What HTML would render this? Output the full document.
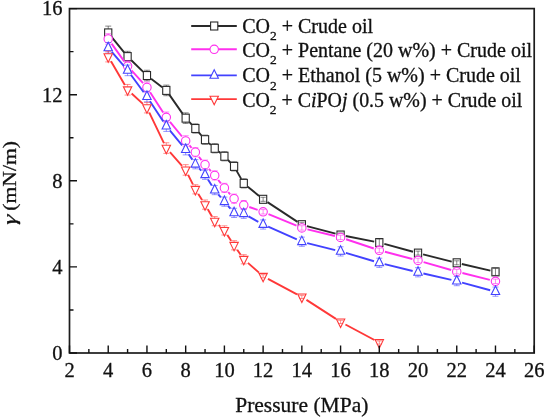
<!DOCTYPE html>
<html><head><meta charset="utf-8"><title>Chart</title>
<style>html,body{margin:0;padding:0;background:#fff}svg{display:block;filter:blur(0.55px)}</style></head>
<body>
<svg width="544" height="418" viewBox="0 0 544 418">
<rect width="544" height="418" fill="#fff"/>
<path d="M111.52 36.95L124.30 52.58M131.30 60.24L143.23 71.91M151.08 78.71L162.19 87.23M169.29 94.66L182.70 113.90M189.23 121.96L191.80 124.70M198.76 132.43L201.64 135.75M208.92 143.14L210.83 144.84M218.73 151.60L220.38 152.96M228.00 160.02L230.49 162.62M236.65 170.90L241.19 178.86M247.78 186.69L259.11 196.01M267.47 202.16L297.50 221.86M306.87 226.05L335.55 233.70M345.68 236.04L374.20 241.58M384.32 243.94L413.01 251.76M423.07 254.39L451.71 261.55M461.81 263.99L490.41 270.67" fill="none" stroke="#2a2a2a" stroke-width="1.9"/>
<path d="M108.22 26.12V39.72M105.22 26.12H111.22M105.22 39.72H111.22" stroke="#2a2a2a" stroke-width="0.7" stroke-opacity="0.8" fill="none"/>
<path d="M127.59 51.30V61.90M124.59 51.30H130.59M124.59 61.90H130.59" stroke="#2a2a2a" stroke-width="0.7" stroke-opacity="0.8" fill="none"/>
<path d="M146.95 70.24V80.84M143.95 70.24H149.95M143.95 80.84H149.95" stroke="#2a2a2a" stroke-width="0.7" stroke-opacity="0.8" fill="none"/>
<path d="M166.31 85.10V95.70M163.31 85.10H169.31M163.31 95.70H169.31" stroke="#2a2a2a" stroke-width="0.7" stroke-opacity="0.8" fill="none"/>
<path d="M185.68 112.86V123.46M182.68 112.86H188.68M182.68 123.46H188.68" stroke="#2a2a2a" stroke-width="0.7" stroke-opacity="0.8" fill="none"/>
<path d="M195.36 123.89V133.09M192.36 123.89H198.36M192.36 133.09H198.36" stroke="#2a2a2a" stroke-width="0.7" stroke-opacity="0.8" fill="none"/>
<path d="M205.04 135.09V144.29M202.04 135.09H208.04M202.04 144.29H208.04" stroke="#2a2a2a" stroke-width="0.7" stroke-opacity="0.8" fill="none"/>
<path d="M214.72 143.70V152.90M211.72 143.70H217.72M211.72 152.90H217.72" stroke="#2a2a2a" stroke-width="0.7" stroke-opacity="0.8" fill="none"/>
<path d="M224.40 151.66V160.86M221.40 151.66H227.40M221.40 160.86H227.40" stroke="#2a2a2a" stroke-width="0.7" stroke-opacity="0.8" fill="none"/>
<path d="M234.08 161.78V170.98M231.08 161.78H237.08M231.08 170.98H237.08" stroke="#2a2a2a" stroke-width="0.7" stroke-opacity="0.8" fill="none"/>
<path d="M243.76 178.78V187.98M240.76 178.78H246.76M240.76 187.98H246.76" stroke="#2a2a2a" stroke-width="0.7" stroke-opacity="0.8" fill="none"/>
<rect x="104.62" y="28.92" width="7.20" height="8.00" fill="#fff" stroke="#2a2a2a" stroke-width="1.1"/>
<rect x="123.99" y="52.60" width="7.20" height="8.00" fill="#fff" stroke="#2a2a2a" stroke-width="1.1"/>
<rect x="143.35" y="71.54" width="7.20" height="8.00" fill="#fff" stroke="#2a2a2a" stroke-width="1.1"/>
<rect x="162.71" y="86.40" width="7.20" height="8.00" fill="#fff" stroke="#2a2a2a" stroke-width="1.1"/>
<rect x="182.08" y="114.16" width="7.20" height="8.00" fill="#fff" stroke="#2a2a2a" stroke-width="1.1"/>
<rect x="191.76" y="124.49" width="7.20" height="8.00" fill="#fff" stroke="#2a2a2a" stroke-width="1.1"/>
<rect x="201.44" y="135.69" width="7.20" height="8.00" fill="#fff" stroke="#2a2a2a" stroke-width="1.1"/>
<rect x="211.12" y="144.30" width="7.20" height="8.00" fill="#fff" stroke="#2a2a2a" stroke-width="1.1"/>
<rect x="220.80" y="152.26" width="7.20" height="8.00" fill="#fff" stroke="#2a2a2a" stroke-width="1.1"/>
<rect x="230.48" y="162.38" width="7.20" height="8.00" fill="#fff" stroke="#2a2a2a" stroke-width="1.1"/>
<rect x="240.16" y="179.38" width="7.20" height="8.00" fill="#fff" stroke="#2a2a2a" stroke-width="1.1"/>
<rect x="259.52" y="195.31" width="7.20" height="8.00" fill="#fff" stroke="#2a2a2a" stroke-width="1.1"/>
<rect x="298.25" y="220.71" width="7.20" height="8.00" fill="#fff" stroke="#2a2a2a" stroke-width="1.1"/>
<rect x="336.98" y="231.04" width="7.20" height="8.00" fill="#fff" stroke="#2a2a2a" stroke-width="1.1"/>
<rect x="375.70" y="238.58" width="7.20" height="8.00" fill="#fff" stroke="#2a2a2a" stroke-width="1.1"/>
<rect x="414.43" y="249.12" width="7.20" height="8.00" fill="#fff" stroke="#2a2a2a" stroke-width="1.1"/>
<rect x="453.15" y="258.81" width="7.20" height="8.00" fill="#fff" stroke="#2a2a2a" stroke-width="1.1"/>
<rect x="491.88" y="267.85" width="7.20" height="8.00" fill="#fff" stroke="#2a2a2a" stroke-width="1.1"/>
<path d="M263.12 197.31V201.31M260.52 197.31H265.73M260.52 201.31H265.73" stroke="#2a2a2a" stroke-width="0.7" stroke-opacity="0.8" fill="none"/>
<path d="M301.85 222.71V226.71M299.25 222.71H304.45M299.25 226.71H304.45" stroke="#2a2a2a" stroke-width="0.7" stroke-opacity="0.8" fill="none"/>
<path d="M340.58 233.04V237.04M337.98 233.04H343.18M337.98 237.04H343.18" stroke="#2a2a2a" stroke-width="0.7" stroke-opacity="0.8" fill="none"/>
<path d="M379.30 238.98V246.18M376.70 238.98H381.90M376.70 246.18H381.90" stroke="#2a2a2a" stroke-width="0.7" stroke-opacity="0.8" fill="none"/>
<path d="M418.03 251.12V255.12M415.43 251.12H420.63M415.43 255.12H420.63" stroke="#2a2a2a" stroke-width="0.7" stroke-opacity="0.8" fill="none"/>
<path d="M456.75 260.81V264.81M454.15 260.81H459.35M454.15 264.81H459.35" stroke="#2a2a2a" stroke-width="0.7" stroke-opacity="0.8" fill="none"/>
<path d="M495.48 268.25V275.45M492.88 268.25H498.08M492.88 275.45H498.08" stroke="#2a2a2a" stroke-width="0.7" stroke-opacity="0.8" fill="none"/>
<path d="M111.60 43.67L124.22 61.35M131.49 70.36L143.05 83.09M150.10 92.25L163.16 112.43M169.98 121.79L182.00 136.49M189.47 145.37L191.56 147.79M198.91 156.76L201.48 160.07M208.92 168.97L210.84 171.11M218.27 180.00L220.85 183.32M228.28 192.22L230.20 194.35M249.25 207.01L257.64 209.91M268.48 214.03L296.50 225.71M307.48 229.32L334.94 236.03M346.08 239.25L373.80 248.49M384.91 251.79L412.41 258.98M423.60 262.05L451.18 270.03M462.38 273.04L489.85 279.91" fill="none" stroke="#ff30ee" stroke-width="1.9"/>
<path d="M108.22 33.65V44.25M105.22 33.65H111.22M105.22 44.25H111.22" stroke="#ff30ee" stroke-width="0.7" stroke-opacity="0.8" fill="none"/>
<path d="M127.59 60.77V71.37M124.59 60.77H130.59M124.59 71.37H130.59" stroke="#ff30ee" stroke-width="0.7" stroke-opacity="0.8" fill="none"/>
<path d="M146.95 82.08V92.68M143.95 82.08H149.95M143.95 92.68H149.95" stroke="#ff30ee" stroke-width="0.7" stroke-opacity="0.8" fill="none"/>
<path d="M166.31 112.00V122.60M163.31 112.00H169.31M163.31 122.60H169.31" stroke="#ff30ee" stroke-width="0.7" stroke-opacity="0.8" fill="none"/>
<path d="M185.68 135.68V146.28M182.68 135.68H188.68M182.68 146.28H188.68" stroke="#ff30ee" stroke-width="0.7" stroke-opacity="0.8" fill="none"/>
<path d="M195.36 147.57V156.77M192.36 147.57H198.36M192.36 156.77H198.36" stroke="#ff30ee" stroke-width="0.7" stroke-opacity="0.8" fill="none"/>
<path d="M205.04 160.06V169.26M202.04 160.06H208.04M202.04 169.26H208.04" stroke="#ff30ee" stroke-width="0.7" stroke-opacity="0.8" fill="none"/>
<path d="M214.72 170.82V180.02M211.72 170.82H217.72M211.72 180.02H217.72" stroke="#ff30ee" stroke-width="0.7" stroke-opacity="0.8" fill="none"/>
<path d="M224.40 183.30V192.50M221.40 183.30H227.40M221.40 192.50H227.40" stroke="#ff30ee" stroke-width="0.7" stroke-opacity="0.8" fill="none"/>
<path d="M234.08 194.07V203.27M231.08 194.07H237.08M231.08 203.27H237.08" stroke="#ff30ee" stroke-width="0.7" stroke-opacity="0.8" fill="none"/>
<path d="M243.76 200.52V209.72M240.76 200.52H246.76M240.76 209.72H246.76" stroke="#ff30ee" stroke-width="0.7" stroke-opacity="0.8" fill="none"/>
<circle cx="108.22" cy="38.95" r="4.2" fill="#fff" stroke="#ff30ee" stroke-width="1.1"/>
<circle cx="127.59" cy="66.07" r="4.2" fill="#fff" stroke="#ff30ee" stroke-width="1.1"/>
<circle cx="146.95" cy="87.38" r="4.2" fill="#fff" stroke="#ff30ee" stroke-width="1.1"/>
<circle cx="166.31" cy="117.30" r="4.2" fill="#fff" stroke="#ff30ee" stroke-width="1.1"/>
<circle cx="185.68" cy="140.98" r="4.2" fill="#fff" stroke="#ff30ee" stroke-width="1.1"/>
<circle cx="195.36" cy="152.17" r="4.2" fill="#fff" stroke="#ff30ee" stroke-width="1.1"/>
<circle cx="205.04" cy="164.66" r="4.2" fill="#fff" stroke="#ff30ee" stroke-width="1.1"/>
<circle cx="214.72" cy="175.42" r="4.2" fill="#fff" stroke="#ff30ee" stroke-width="1.1"/>
<circle cx="224.40" cy="187.90" r="4.2" fill="#fff" stroke="#ff30ee" stroke-width="1.1"/>
<circle cx="234.08" cy="198.67" r="4.2" fill="#fff" stroke="#ff30ee" stroke-width="1.1"/>
<circle cx="243.76" cy="205.12" r="4.2" fill="#fff" stroke="#ff30ee" stroke-width="1.1"/>
<circle cx="263.12" cy="211.80" r="4.2" fill="#fff" stroke="#ff30ee" stroke-width="1.1"/>
<circle cx="301.85" cy="227.94" r="4.2" fill="#fff" stroke="#ff30ee" stroke-width="1.1"/>
<circle cx="340.58" cy="237.41" r="4.2" fill="#fff" stroke="#ff30ee" stroke-width="1.1"/>
<circle cx="379.30" cy="250.33" r="4.2" fill="#fff" stroke="#ff30ee" stroke-width="1.1"/>
<circle cx="418.03" cy="260.44" r="4.2" fill="#fff" stroke="#ff30ee" stroke-width="1.1"/>
<circle cx="456.75" cy="271.64" r="4.2" fill="#fff" stroke="#ff30ee" stroke-width="1.1"/>
<circle cx="495.48" cy="281.32" r="4.2" fill="#fff" stroke="#ff30ee" stroke-width="1.1"/>
<path d="M263.12 209.60V214.00M260.52 209.60H265.73M260.52 214.00H265.73" stroke="#ff30ee" stroke-width="0.7" stroke-opacity="0.8" fill="none"/>
<path d="M301.85 225.74V230.14M299.25 225.74H304.45M299.25 230.14H304.45" stroke="#ff30ee" stroke-width="0.7" stroke-opacity="0.8" fill="none"/>
<path d="M340.58 235.21V239.61M337.98 235.21H343.18M337.98 239.61H343.18" stroke="#ff30ee" stroke-width="0.7" stroke-opacity="0.8" fill="none"/>
<path d="M379.30 248.13V252.53M376.70 248.13H381.90M376.70 252.53H381.90" stroke="#ff30ee" stroke-width="0.7" stroke-opacity="0.8" fill="none"/>
<path d="M418.03 258.24V262.64M415.43 258.24H420.63M415.43 262.64H420.63" stroke="#ff30ee" stroke-width="0.7" stroke-opacity="0.8" fill="none"/>
<path d="M456.75 269.44V273.84M454.15 269.44H459.35M454.15 273.84H459.35" stroke="#ff30ee" stroke-width="0.7" stroke-opacity="0.8" fill="none"/>
<path d="M495.48 279.12V283.52M492.88 279.12H498.08M492.88 283.52H498.08" stroke="#ff30ee" stroke-width="0.7" stroke-opacity="0.8" fill="none"/>
<path d="M111.80 51.95L124.01 66.20M130.85 74.80L143.69 92.21M149.97 101.23L163.29 121.53M169.81 130.37L182.17 145.35M188.71 154.18L192.32 159.64M199.08 168.28L201.32 170.72M207.98 179.42L211.78 185.41M218.24 194.28L220.88 197.45M228.00 205.84L230.48 208.71M248.57 216.41L258.32 221.82M268.15 226.73L296.82 239.48M307.19 243.05L335.24 250.07M345.85 252.96L374.02 261.26M384.64 264.12L412.68 270.97M423.39 273.50L451.39 279.88M462.06 282.55L490.17 290.21" fill="none" stroke="#4242ff" stroke-width="1.9"/>
<path d="M108.22 42.48V53.08M105.22 42.48H111.22M105.22 53.08H111.22" stroke="#4242ff" stroke-width="0.7" stroke-opacity="0.8" fill="none"/>
<path d="M127.59 65.08V75.68M124.59 65.08H130.59M124.59 75.68H130.59" stroke="#4242ff" stroke-width="0.7" stroke-opacity="0.8" fill="none"/>
<path d="M146.95 91.34V101.94M143.95 91.34H149.95M143.95 101.94H149.95" stroke="#4242ff" stroke-width="0.7" stroke-opacity="0.8" fill="none"/>
<path d="M166.31 120.83V131.43M163.31 120.83H169.31M163.31 131.43H169.31" stroke="#4242ff" stroke-width="0.7" stroke-opacity="0.8" fill="none"/>
<path d="M185.68 144.29V154.89M182.68 144.29H188.68M182.68 154.89H188.68" stroke="#4242ff" stroke-width="0.7" stroke-opacity="0.8" fill="none"/>
<path d="M195.36 159.63V168.83M192.36 159.63H198.36M192.36 168.83H198.36" stroke="#4242ff" stroke-width="0.7" stroke-opacity="0.8" fill="none"/>
<path d="M205.04 170.17V179.37M202.04 170.17H208.04M202.04 179.37H208.04" stroke="#4242ff" stroke-width="0.7" stroke-opacity="0.8" fill="none"/>
<path d="M214.72 185.46V194.66M211.72 185.46H217.72M211.72 194.66H217.72" stroke="#4242ff" stroke-width="0.7" stroke-opacity="0.8" fill="none"/>
<path d="M224.40 197.08V206.28M221.40 197.08H227.40M221.40 206.28H227.40" stroke="#4242ff" stroke-width="0.7" stroke-opacity="0.8" fill="none"/>
<path d="M234.08 208.27V217.47M231.08 208.27H237.08M231.08 217.47H237.08" stroke="#4242ff" stroke-width="0.7" stroke-opacity="0.8" fill="none"/>
<path d="M243.76 209.13V218.33M240.76 209.13H246.76M240.76 218.33H246.76" stroke="#4242ff" stroke-width="0.7" stroke-opacity="0.8" fill="none"/>
<path d="M263.12 219.90V229.10M260.12 219.90H266.12M260.12 229.10H266.12" stroke="#4242ff" stroke-width="0.7" stroke-opacity="0.8" fill="none"/>
<path d="M301.85 237.12V246.32M298.85 237.12H304.85M298.85 246.32H304.85" stroke="#4242ff" stroke-width="0.7" stroke-opacity="0.8" fill="none"/>
<path d="M340.58 246.80V256.00M337.58 246.80H343.58M337.58 256.00H343.58" stroke="#4242ff" stroke-width="0.7" stroke-opacity="0.8" fill="none"/>
<path d="M379.30 258.21V267.41M376.30 258.21H382.30M376.30 267.41H382.30" stroke="#4242ff" stroke-width="0.7" stroke-opacity="0.8" fill="none"/>
<path d="M418.03 267.68V276.88M415.03 267.68H421.03M415.03 276.88H421.03" stroke="#4242ff" stroke-width="0.7" stroke-opacity="0.8" fill="none"/>
<path d="M456.75 276.51V285.71M453.75 276.51H459.75M453.75 285.71H459.75" stroke="#4242ff" stroke-width="0.7" stroke-opacity="0.8" fill="none"/>
<path d="M495.48 287.05V296.25M492.48 287.05H498.48M492.48 296.25H498.48" stroke="#4242ff" stroke-width="0.7" stroke-opacity="0.8" fill="none"/>
<path d="M104.02 50.68L112.42 50.68L108.22 42.18Z" fill="#fff" stroke="#4242ff" stroke-width="1.1"/>
<path d="M123.39 73.28L131.79 73.28L127.59 64.78Z" fill="#fff" stroke="#4242ff" stroke-width="1.1"/>
<path d="M142.75 99.54L151.15 99.54L146.95 91.04Z" fill="#fff" stroke="#4242ff" stroke-width="1.1"/>
<path d="M162.11 129.03L170.51 129.03L166.31 120.53Z" fill="#fff" stroke="#4242ff" stroke-width="1.1"/>
<path d="M181.48 152.49L189.88 152.49L185.68 143.99Z" fill="#fff" stroke="#4242ff" stroke-width="1.1"/>
<path d="M191.16 167.13L199.56 167.13L195.36 158.63Z" fill="#fff" stroke="#4242ff" stroke-width="1.1"/>
<path d="M200.84 177.67L209.24 177.67L205.04 169.17Z" fill="#fff" stroke="#4242ff" stroke-width="1.1"/>
<path d="M210.52 192.96L218.92 192.96L214.72 184.46Z" fill="#fff" stroke="#4242ff" stroke-width="1.1"/>
<path d="M220.20 204.58L228.60 204.58L224.40 196.08Z" fill="#fff" stroke="#4242ff" stroke-width="1.1"/>
<path d="M229.88 215.77L238.28 215.77L234.08 207.27Z" fill="#fff" stroke="#4242ff" stroke-width="1.1"/>
<path d="M239.56 216.63L247.96 216.63L243.76 208.13Z" fill="#fff" stroke="#4242ff" stroke-width="1.1"/>
<path d="M258.93 227.40L267.32 227.40L263.12 218.90Z" fill="#fff" stroke="#4242ff" stroke-width="1.1"/>
<path d="M297.65 244.62L306.05 244.62L301.85 236.12Z" fill="#fff" stroke="#4242ff" stroke-width="1.1"/>
<path d="M336.38 254.30L344.78 254.30L340.58 245.80Z" fill="#fff" stroke="#4242ff" stroke-width="1.1"/>
<path d="M375.10 265.71L383.50 265.71L379.30 257.21Z" fill="#fff" stroke="#4242ff" stroke-width="1.1"/>
<path d="M413.83 275.18L422.23 275.18L418.03 266.68Z" fill="#fff" stroke="#4242ff" stroke-width="1.1"/>
<path d="M452.55 284.01L460.95 284.01L456.75 275.51Z" fill="#fff" stroke="#4242ff" stroke-width="1.1"/>
<path d="M491.28 294.55L499.68 294.55L495.48 286.05Z" fill="#fff" stroke="#4242ff" stroke-width="1.1"/>
<path d="M111.00 61.35L124.81 85.00M131.63 93.48L142.91 103.89M149.32 112.58L163.94 143.12M169.96 152.20L182.03 165.81M188.13 174.85L192.90 184.38M198.30 193.95L202.09 199.94M207.81 209.33L211.94 216.41M218.69 224.96L220.42 226.61M227.40 235.02L231.08 240.66M237.21 249.79L240.63 254.74M247.90 262.89L258.99 272.63M267.98 278.85L297.00 294.34M306.47 299.91L335.95 318.92M345.43 324.49L374.45 339.97" fill="none" stroke="#ff3838" stroke-width="1.9"/>
<path d="M108.22 51.30V61.90M105.22 51.30H111.22M105.22 61.90H111.22" stroke="#ff3838" stroke-width="0.7" stroke-opacity="0.8" fill="none"/>
<path d="M127.59 84.45V95.05M124.59 84.45H130.59M124.59 95.05H130.59" stroke="#ff3838" stroke-width="0.7" stroke-opacity="0.8" fill="none"/>
<path d="M146.95 102.32V112.92M143.95 102.32H149.95M143.95 112.92H149.95" stroke="#ff3838" stroke-width="0.7" stroke-opacity="0.8" fill="none"/>
<path d="M166.31 142.78V153.38M163.31 142.78H169.31M163.31 153.38H169.31" stroke="#ff3838" stroke-width="0.7" stroke-opacity="0.8" fill="none"/>
<path d="M185.68 164.63V175.23M182.68 164.63H188.68M182.68 175.23H188.68" stroke="#ff3838" stroke-width="0.7" stroke-opacity="0.8" fill="none"/>
<path d="M195.36 184.70V193.90M192.36 184.70H198.36M192.36 193.90H198.36" stroke="#ff3838" stroke-width="0.7" stroke-opacity="0.8" fill="none"/>
<path d="M205.04 199.99V209.19M202.04 199.99H208.04M202.04 209.19H208.04" stroke="#ff3838" stroke-width="0.7" stroke-opacity="0.8" fill="none"/>
<path d="M214.72 216.56V225.76M211.72 216.56H217.72M211.72 225.76H217.72" stroke="#ff3838" stroke-width="0.7" stroke-opacity="0.8" fill="none"/>
<path d="M224.40 225.82V235.02M221.40 225.82H227.40M221.40 235.02H227.40" stroke="#ff3838" stroke-width="0.7" stroke-opacity="0.8" fill="none"/>
<path d="M234.08 240.67V249.87M231.08 240.67H237.08M231.08 249.87H237.08" stroke="#ff3838" stroke-width="0.7" stroke-opacity="0.8" fill="none"/>
<path d="M243.76 254.66V263.86M240.76 254.66H246.76M240.76 263.86H246.76" stroke="#ff3838" stroke-width="0.7" stroke-opacity="0.8" fill="none"/>
<path d="M104.02 53.70L112.42 53.70L108.22 62.20Z" fill="#fff" stroke="#ff3838" stroke-width="1.1"/>
<path d="M123.39 86.85L131.79 86.85L127.59 95.35Z" fill="#fff" stroke="#ff3838" stroke-width="1.1"/>
<path d="M142.75 104.72L151.15 104.72L146.95 113.22Z" fill="#fff" stroke="#ff3838" stroke-width="1.1"/>
<path d="M162.11 145.18L170.51 145.18L166.31 153.68Z" fill="#fff" stroke="#ff3838" stroke-width="1.1"/>
<path d="M181.48 167.03L189.88 167.03L185.68 175.53Z" fill="#fff" stroke="#ff3838" stroke-width="1.1"/>
<path d="M191.16 186.40L199.56 186.40L195.36 194.90Z" fill="#fff" stroke="#ff3838" stroke-width="1.1"/>
<path d="M200.84 201.69L209.24 201.69L205.04 210.19Z" fill="#fff" stroke="#ff3838" stroke-width="1.1"/>
<path d="M210.52 218.26L218.92 218.26L214.72 226.76Z" fill="#fff" stroke="#ff3838" stroke-width="1.1"/>
<path d="M220.20 227.52L228.60 227.52L224.40 236.02Z" fill="#fff" stroke="#ff3838" stroke-width="1.1"/>
<path d="M229.88 242.37L238.28 242.37L234.08 250.87Z" fill="#fff" stroke="#ff3838" stroke-width="1.1"/>
<path d="M239.56 256.36L247.96 256.36L243.76 264.86Z" fill="#fff" stroke="#ff3838" stroke-width="1.1"/>
<path d="M258.93 273.36L267.32 273.36L263.12 281.86Z" fill="#fff" stroke="#ff3838" stroke-width="1.1"/>
<path d="M297.65 294.03L306.05 294.03L301.85 302.53Z" fill="#fff" stroke="#ff3838" stroke-width="1.1"/>
<path d="M336.38 319.00L344.78 319.00L340.58 327.50Z" fill="#fff" stroke="#ff3838" stroke-width="1.1"/>
<path d="M375.10 339.66L383.50 339.66L379.30 348.16Z" fill="#fff" stroke="#ff3838" stroke-width="1.1"/>
<path d="M263.12 274.66V277.86M260.52 274.66H265.73M260.52 277.86H265.73" stroke="#ff3838" stroke-width="0.7" stroke-opacity="0.8" fill="none"/>
<path d="M301.85 295.33V298.53M299.25 295.33H304.45M299.25 298.53H304.45" stroke="#ff3838" stroke-width="0.7" stroke-opacity="0.8" fill="none"/>
<path d="M340.58 320.30V323.50M337.98 320.30H343.18M337.98 323.50H343.18" stroke="#ff3838" stroke-width="0.7" stroke-opacity="0.8" fill="none"/>
<path d="M379.30 340.96V344.16M376.70 340.96H381.90M376.70 344.16H381.90" stroke="#ff3838" stroke-width="0.7" stroke-opacity="0.8" fill="none"/>
<rect x="69.5" y="8.6" width="464.70" height="344.40" fill="none" stroke="#1c1c1c" stroke-width="1.7"/>
<path d="M69.50 353.0v-7.5M88.86 353.0v-4M108.22 353.0v-7.5M127.59 353.0v-4M146.95 353.0v-7.5M166.31 353.0v-4M185.68 353.0v-7.5M205.04 353.0v-4M224.40 353.0v-7.5M243.76 353.0v-4M263.12 353.0v-7.5M282.49 353.0v-4M301.85 353.0v-7.5M321.21 353.0v-4M340.58 353.0v-7.5M359.94 353.0v-4M379.30 353.0v-7.5M398.66 353.0v-4M418.03 353.0v-7.5M437.39 353.0v-4M456.75 353.0v-7.5M476.11 353.0v-4M495.48 353.0v-7.5M514.84 353.0v-4M534.20 353.0v-7.5M69.5 353.00h7.5M69.5 309.95h4M69.5 266.90h7.5M69.5 223.85h4M69.5 180.80h7.5M69.5 137.75h4M69.5 94.70h7.5M69.5 51.65h4M69.5 8.60h7.5" stroke="#111" stroke-width="1.4" fill="none"/>
<g font-family="Liberation Serif, serif" font-size="20.5" fill="#111" stroke="#111" stroke-width="0.3">
<text x="69.50" y="377.2" text-anchor="middle">2</text>
<text x="108.22" y="377.2" text-anchor="middle">4</text>
<text x="146.95" y="377.2" text-anchor="middle">6</text>
<text x="185.68" y="377.2" text-anchor="middle">8</text>
<text x="224.40" y="377.2" text-anchor="middle">10</text>
<text x="263.12" y="377.2" text-anchor="middle">12</text>
<text x="301.85" y="377.2" text-anchor="middle">14</text>
<text x="340.58" y="377.2" text-anchor="middle">16</text>
<text x="379.30" y="377.2" text-anchor="middle">18</text>
<text x="418.03" y="377.2" text-anchor="middle">20</text>
<text x="456.75" y="377.2" text-anchor="middle">22</text>
<text x="495.48" y="377.2" text-anchor="middle">24</text>
<text x="534.20" y="377.2" text-anchor="middle">26</text>
<text x="62.5" y="359.80" text-anchor="end">0</text>
<text x="62.5" y="273.70" text-anchor="end">4</text>
<text x="62.5" y="187.60" text-anchor="end">8</text>
<text x="62.5" y="101.50" text-anchor="end">12</text>
<text x="62.5" y="15.40" text-anchor="end">16</text>
<text x="301.8" y="411.8" text-anchor="middle" font-size="21.5">Pressure (MPa)</text>
<text transform="translate(16.2,210.8) rotate(-90) scale(1.033,0.9)" text-anchor="start" font-size="21">(mN/m)</text>
<text transform="translate(16.2,225.6) rotate(-90) skewX(-6) scale(1.2,0.9)" text-anchor="start" font-size="21.5" font-style="italic">γ</text>
</g>
<g font-family="Liberation Serif, serif" font-size="20" fill="#111" stroke="#111" stroke-width="0.3">
<path d="M191.2 26.0H236.8" stroke="#2a2a2a" stroke-width="1.9"/>
<rect x="210.60" y="22.00" width="7.20" height="8.00" fill="#fff" stroke="#2a2a2a" stroke-width="1.1"/>
<text x="242.2" y="32.7">CO<tspan font-size="13.5" dy="7.3">2</tspan><tspan dy="-7.3"> + </tspan>Crude oil</text>
<path d="M191.2 49.3H236.8" stroke="#ff30ee" stroke-width="1.9"/>
<circle cx="214.20" cy="49.30" r="4.2" fill="#fff" stroke="#ff30ee" stroke-width="1.1"/>
<text x="242.2" y="57.0">CO<tspan font-size="13.5" dy="7.3">2</tspan><tspan dy="-7.3"> + </tspan>Pentane (20 w%) + Crude oil</text>
<path d="M191.2 75.4H236.8" stroke="#4242ff" stroke-width="1.9"/>
<path d="M210.00 78.30L218.40 78.30L214.20 69.80Z" fill="#fff" stroke="#4242ff" stroke-width="1.1"/>
<text x="242.2" y="82.2">CO<tspan font-size="13.5" dy="7.3">2</tspan><tspan dy="-7.3"> + </tspan>Ethanol (5 w%) + Crude oil</text>
<path d="M191.2 99.1H236.8" stroke="#ff3838" stroke-width="1.9"/>
<path d="M210.00 96.20L218.40 96.20L214.20 104.70Z" fill="#fff" stroke="#ff3838" stroke-width="1.1"/>
<text x="242.2" y="106.7" font-size="19.9">CO<tspan font-size="13.5" dy="7.3">2</tspan><tspan dy="-7.3"> + </tspan>C<tspan font-style="italic">i</tspan>PO<tspan font-style="italic">j</tspan> (0.5 w%) + Crude oil</text>
</g>
</svg>
</body></html>
